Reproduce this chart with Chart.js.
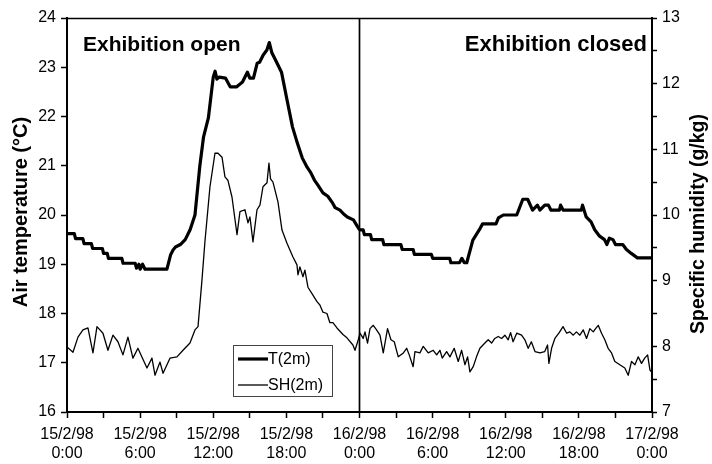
<!DOCTYPE html>
<html>
<head>
<meta charset="utf-8">
<script src="https://cdn.jsdelivr.net/npm/chart.js@4/dist/chart.umd.min.js"></script>
<style>
  html, body { margin: 0; padding: 0; background: #fff; }
  #c { display: block; }
</style>
</head>
<body>
<canvas id="c" width="712" height="464"></canvas>
<script>
// ---- Data (hours since 15/2/98 0:00) ----
const tHours = [0,0.6,0.7,1.3,1.4,2.0,2.1,2.9,3.0,3.3,3.4,4.5,4.6,5.6,5.7,5.9,6.0,6.2,6.4,6.6,8.2,8.5,8.7,8.9,9.3,9.7,10.1,10.5,10.9,11.2,11.6,12.0,12.15,12.3,12.5,13.0,13.4,13.9,14.4,14.8,15.0,15.3,15.6,15.8,16.1,16.4,16.6,16.8,17.2,17.6,18.05,18.5,18.9,19.3,19.7,20.0,20.3,20.6,21.0,21.4,21.8,22.0,22.4,22.7,23.0,23.5,23.8,24.0,
  24.3,24.4,24.9,25.0,25.9,26.0,27.4,27.5,28.4,28.5,29.9,30.0,31.4,31.5,32.2,32.4,32.6,32.8,33.3,33.9,34.1,35.2,35.4,35.8,36.9,37.4,37.8,38.2,38.6,38.8,39.2,39.5,39.7,40.4,40.5,40.7,42.2,42.3,42.6,43.0,43.3,43.7,44.1,44.3,44.5,44.8,45.0,45.6,45.9,46.3,46.8,48.0];
const tValues = [19.62,19.62,19.52,19.52,19.42,19.42,19.32,19.32,19.22,19.22,19.12,19.12,19.02,19.02,18.92,19.0,18.9,19.0,18.9,18.9,18.9,19.19,19.29,19.35,19.4,19.5,19.7,20.0,21.0,21.58,21.97,22.8,22.92,22.76,22.8,22.78,22.6,22.6,22.7,22.9,22.78,22.78,23.08,23.1,23.25,23.35,23.5,23.3,23.1,22.9,22.34,21.79,21.46,21.16,20.97,20.86,20.71,20.6,20.45,20.38,20.24,20.15,20.1,20.02,19.96,19.9,19.78,19.7,
  19.7,19.6,19.6,19.5,19.5,19.4,19.4,19.3,19.3,19.2,19.2,19.12,19.12,19.03,19.03,19.12,19.03,19.03,19.49,19.73,19.82,19.82,19.94,20.0,20.0,20.32,20.32,20.1,20.2,20.1,20.2,20.2,20.1,20.1,20.2,20.1,20.1,20.2,19.96,19.86,19.7,19.57,19.5,19.4,19.53,19.5,19.4,19.4,19.3,19.22,19.13,19.13];

const shHours = [0,0.49,0.9,1.31,1.72,2.13,2.46,2.95,3.36,3.77,4.18,4.59,5.0,5.41,5.82,6.56,6.97,7.22,7.63,7.88,8.45,9.02,9.52,10.09,10.5,10.75,11.07,11.32,11.73,12.14,12.39,12.72,12.96,13.2,13.54,13.95,14.19,14.6,14.85,15.01,15.26,15.59,15.83,16.08,16.41,16.57,16.7,16.9,17.31,17.64,18.05,18.54,18.87,18.95,19.11,19.36,19.52,19.77,20.18,20.51,20.75,21.0,21.33,21.57,21.82,22.15,22.64,22.97,23.46,23.63,
  23.9,24.04,24.3,24.45,24.66,24.86,25.13,25.4,25.68,25.95,26.3,26.58,26.85,27.18,27.6,27.87,28.08,28.4,28.55,28.96,29.23,29.64,30.05,30.33,30.6,30.79,31.15,31.42,31.77,32.1,32.38,32.65,32.87,33.06,33.33,33.6,33.88,34.29,34.56,34.84,35.1,35.38,35.66,35.93,36.2,36.4,36.6,36.9,37.3,37.57,37.84,38.1,38.4,38.8,39.2,39.43,39.54,39.76,40.03,40.36,40.7,41.0,41.26,41.54,41.8,42.08,42.36,42.63,42.9,43.18,43.37,43.59,43.86,44.13,44.4,44.68,44.95,45.36,45.77,46.05,46.32,46.6,46.87,47.14,47.4,47.64,47.83,47.96];
const shValues = [7.99,7.91,8.14,8.25,8.28,7.9,8.3,8.2,7.94,8.17,8.07,7.87,8.14,7.82,7.97,7.67,7.82,7.56,7.76,7.59,7.82,7.84,7.94,8.05,8.25,8.3,9.0,9.6,10.43,10.94,10.94,10.88,10.58,10.53,10.27,9.7,10.05,10.08,9.88,9.97,9.59,10.08,10.15,10.43,10.49,10.79,10.55,10.5,10.2,9.77,9.57,9.36,9.24,9.09,9.21,9.06,9.16,8.9,8.78,8.68,8.63,8.52,8.5,8.36,8.36,8.28,8.18,8.13,8.02,7.94,
  8.10,8.2,8.12,8.22,8.05,8.27,8.32,8.25,8.17,7.9,8.27,8.10,8.07,7.84,7.9,7.97,7.87,7.69,7.92,7.9,8.0,7.9,7.94,7.87,7.94,7.82,7.92,7.84,7.97,7.77,7.94,7.72,7.84,7.61,7.69,7.84,7.97,8.05,8.10,8.05,8.12,8.15,8.12,8.17,8.10,8.21,8.07,8.2,8.17,8.10,7.97,8.07,7.92,7.9,7.92,8.02,7.74,7.97,8.12,8.2,8.3,8.2,8.22,8.17,8.22,8.17,8.25,8.12,8.27,8.22,8.27,8.32,8.2,8.10,7.97,7.9,7.77,7.72,7.67,7.56,7.77,7.72,7.84,7.74,7.82,7.87,7.64,7.61];

const xTickDates = ["15/2/98","15/2/98","15/2/98","15/2/98","16/2/98","16/2/98","16/2/98","16/2/98","17/2/98"];
const xTickTimes = ["0:00","6:00","12:00","18:00","0:00","6:00","12:00","18:00","0:00"];
const seriesNames = ["T(2m)", "SH(2m)"];
const dividerHour = 24;
const annotationLeft = "Exhibition open";
const annotationRight = "Exhibition closed";
const leftTitle = "Air temperature (°C)";
const rightTitle = "Specific humidity (g/kg)";

const FONT = "'Liberation Sans', Arial, Helvetica, sans-serif";

const tData = tHours.map((h, i) => ({ x: h, y: tValues[i] }));
const shData = shHours.map((h, i) => ({ x: h, y: shValues[i] }));

const decorPlugin = {
  id: 'decor',
  beforeDatasetsDraw(chart) {
    const { ctx, chartArea: a, scales } = chart;
    ctx.save();
    ctx.strokeStyle = '#000';
    ctx.lineWidth = 1.5;
    ctx.beginPath();
    ctx.moveTo(a.left, a.top + 0.5);
    ctx.lineTo(a.right, a.top + 0.5);
    ctx.stroke();
    const xd = scales.x.getPixelForValue(dividerHour);
    ctx.lineWidth = 1.7;
    ctx.beginPath();
    ctx.moveTo(xd, a.top);
    ctx.lineTo(xd, a.bottom);
    ctx.stroke();
    ctx.restore();
  },
  afterDraw(chart) {
    const { ctx } = chart;
    ctx.save();
    ctx.fillStyle = '#000';
    ctx.font = 'bold 21px ' + FONT;
    ctx.textBaseline = 'alphabetic';
    ctx.textAlign = 'left';
    ctx.fillText(annotationLeft, 83, 51);
    ctx.font = 'bold 22px ' + FONT;
    ctx.textAlign = 'right';
    ctx.fillText(annotationRight, 647, 51);
    ctx.font = 'bold 20px ' + FONT;
    ctx.textAlign = 'center';
    ctx.textBaseline = 'middle';
    ctx.save();
    ctx.translate(21, 212);
    ctx.rotate(-Math.PI / 2);
    ctx.fillText(leftTitle, 0, 0);
    ctx.restore();
    ctx.font = 'bold 19.5px ' + FONT;
    ctx.save();
    ctx.translate(699, 224);
    ctx.rotate(-Math.PI / 2);
    ctx.fillText(rightTitle, 0, 0);
    ctx.restore();
    const bx = 233, by = 345, bw = 99, bh = 51;
    ctx.strokeStyle = '#444';
    ctx.lineWidth = 1;
    ctx.strokeRect(bx + 0.5, by + 0.5, bw, bh);
    const rows = [{ y: 359, w: 3.2 }, { y: 385, w: 1.3 }];
    ctx.font = '16px ' + FONT;
    ctx.textAlign = 'left';
    ctx.textBaseline = 'middle';
    rows.forEach((r, i) => {
      ctx.strokeStyle = '#000';
      ctx.lineWidth = r.w;
      ctx.beginPath();
      ctx.moveTo(238, r.y);
      ctx.lineTo(268, r.y);
      ctx.stroke();
      ctx.fillText(seriesNames[i], 268, r.y + 1);
    });
    ctx.restore();
  }
};

new Chart(document.getElementById('c'), {
  type: 'line',
  data: {
    datasets: [
      { label: seriesNames[0], data: tData, yAxisID: 'y', borderColor: '#000', borderWidth: 3.2,
        pointRadius: 0, tension: 0, fill: false, borderJoinStyle: 'round', borderCapStyle: 'round' },
      { label: seriesNames[1], data: shData, yAxisID: 'y2', borderColor: '#000', borderWidth: 1.3,
        pointRadius: 0, tension: 0, fill: false, borderJoinStyle: 'round' }
    ]
  },
  options: {
    responsive: false,
    animation: false,
    devicePixelRatio: 1,
    layout: { padding: { top: 18, left: 0, right: 0, bottom: 0 } },
    plugins: { legend: { display: false }, tooltip: { enabled: false } },
    scales: {
      x: {
        type: 'linear', min: 0, max: 48,
        afterFit(s) { s.height = 52; },
        grid: { display: true, drawOnChartArea: false, drawTicks: true, tickLength: 6, color: '#000', tickWidth: 1.5 },
        border: { display: true, color: '#000', width: 2 },
        ticks: {
          stepSize: 3, autoSkip: false, maxRotation: 0, minRotation: 0, padding: 7,
          color: '#000', font: { family: FONT, size: 16, lineHeight: 1.2 },
          callback(v) {
            if (v % 6 !== 0) return '';
            const i = v / 6;
            return [xTickDates[i], xTickTimes[i]];
          }
        }
      },
      y: {
        position: 'left', min: 16, max: 24,
        afterFit(s) { s.width = 67; },
        grid: { display: true, drawOnChartArea: false, drawTicks: true, tickLength: 6, color: '#000', tickWidth: 1.5 },
        border: { display: true, color: '#000', width: 2 },
        ticks: { stepSize: 1, padding: 5, color: '#000', font: { family: FONT, size: 16 } }
      },
      y2: {
        position: 'right', min: 7, max: 13,
        afterFit(s) { s.width = 60; },
        grid: { display: true, drawOnChartArea: false, drawTicks: true, tickLength: 5, color: '#000', tickWidth: 1.5 },
        border: { display: true, color: '#000', width: 2 },
        ticks: {
          stepSize: 0.5, padding: 5, color: '#000', font: { family: FONT, size: 16 },
          callback(v) { return Number.isInteger(v) ? String(v) : ''; }
        }
      }
    }
  },
  plugins: [decorPlugin]
});
</script>
</body>
</html>
